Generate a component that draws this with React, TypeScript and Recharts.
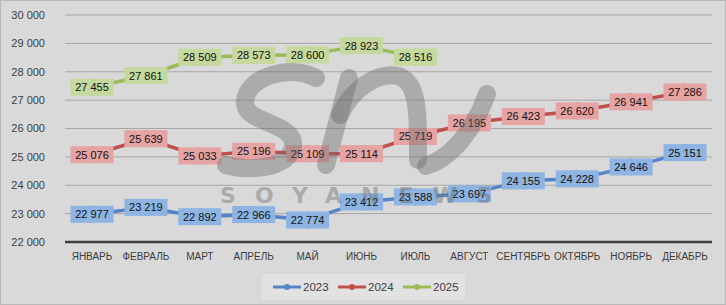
import React from 'react';
import { LineChart, Line, XAxis, YAxis, CartesianGrid, Legend } from 'recharts';

const months = ['ЯНВАРЬ', 'ФЕВРАЛЬ', 'МАРТ', 'АПРЕЛЬ', 'МАЙ', 'ИЮНЬ', 'ИЮЛЬ', 'АВГУСТ', 'СЕНТЯБРЬ', 'ОКТЯБРЬ', 'НОЯБРЬ', 'ДЕКАБРЬ'];
const values2023 = [22977, 23219, 22892, 22966, 22774, 23412, 23588, 23697, 24155, 24228, 24646, 25151];
const values2024 = [25076, 25639, 25033, 25196, 25109, 25114, 25719, 26195, 26423, 26620, 26941, 27286];
const values2025 = [27455, 27861, 28509, 28573, 28600, 28923, 28516];
const yTicks = [22000, 23000, 24000, 25000, 26000, 27000, 28000, 29000, 30000];

const data = months.map((m, i) => ({
  month: m,
  y2023: values2023[i],
  y2024: values2024[i],
  y2025: i < values2025.length ? values2025[i] : null,
}));

const styles: Record<string, { line: string; box: string; dot: string }> = {
  y2023: { line: '#5585c6', box: '#8db4e2', dot: '#86aedf' },
  y2024: { line: '#c0504d', box: '#e6a3a3', dot: '#de9191' },
  y2025: { line: '#9bbb59', box: '#c5d89d', dot: '#bcd28f' },
};

const fmt = (v: number) => {
  const th = Math.floor(v / 1000);
  const rest = String(v % 1000).padStart(3, '0');
  return `${th} ${rest}`;
};

const makeDot = (key: string) => (props: any) => {
  const { cx, cy, index, value } = props;
  if (cx == null || cy == null || value == null) return <g key={`d-${key}-${index}`} />;
  return (
    <circle key={`d-${key}-${index}`} cx={cx} cy={cy} r={8} fill={styles[key].dot} stroke={styles[key].line} strokeWidth={1} />
  );
};

const makeLabel = (key: string) => (props: any) => {
  const { x, y, value, index } = props;
  if (value == null || x == null || y == null) return <g key={`l-${key}-${index}`} />;
  const w = 43;
  const h = 17;
  return (
    <g key={`l-${key}-${index}`}>
      <rect x={x - w / 2} y={y - h / 2} width={w} height={h} fill={styles[key].box} />
      <text x={x} y={y} dy="0.36em" textAnchor="middle" fontSize={11} fill="#111">
        {fmt(value)}
      </text>
    </g>
  );
};

const renderLegend = (props: any) => {
  const payload = props.payload || [];
  const offsets = [11, 76, 141];
  return (
    <div style={{ position: 'relative', width: 712, height: 26 }}>
      <div style={{ position: 'absolute', left: 262, top: 0, width: 203, height: 26, background: '#e2e2e2' }}>
        {payload.map((p: any, i: number) => (
          <div key={p.value} style={{ position: 'absolute', left: offsets[i], top: 0, height: 26, display: 'flex', alignItems: 'center' }}>
            <svg width={28} height={10} style={{ display: 'block' }}>
              <line x1={0} y1={5} x2={28} y2={5} stroke={p.color} strokeWidth={3} />
              <circle cx={14} cy={5} r={3} fill={p.color} />
            </svg>
            <span style={{ marginLeft: 2, fontSize: 11.5, color: '#404040' }}>{p.value}</span>
          </div>
        ))}
      </div>
    </div>
  );
};

export default function App() {
  return (
    <div
      style={{
        position: 'absolute',
        left: 0,
        top: 0,
        width: 726,
        height: 305,
        background: '#d9d9d9',
        boxSizing: 'border-box',
        border: '1px solid #b8b8b8',
        fontFamily: '"Liberation Sans", Arial, sans-serif',
        overflow: 'hidden',
      }}
    >
      <div style={{ position: 'absolute', left: -1, top: -1 }}>
        <LineChart width={726} height={305} data={data} margin={{ top: 15, right: 14, bottom: 5, left: 0 }}>
          <CartesianGrid vertical={false} stroke="#a6a6a6" strokeWidth={1} />
          <XAxis
            dataKey="month"
            axisLine={{ stroke: '#404040', strokeWidth: 2.5 }}
            tickLine={false}
            tick={{ fontSize: 10, fill: '#3c3c3c' }}
            tickMargin={5}
            height={32}
            interval={0}
            padding={{ left: 27, right: 27 }}
          />
          <YAxis
            domain={[22000, 30000]}
            ticks={yTicks}
            tickFormatter={fmt}
            axisLine={false}
            tickLine={false}
            tick={{ fontSize: 11, fill: '#404040' }}
            tickMargin={14}
            width={65}
            interval={0}
          />
          <Legend verticalAlign="bottom" height={26} content={renderLegend} />
          <Line
            type="linear"
            dataKey="y2023"
            name="2023"
            stroke={styles.y2023.line}
            strokeWidth={3.5}
            dot={makeDot('y2023')}
            label={makeLabel('y2023')}
            isAnimationActive={false}
          />
          <Line
            type="linear"
            dataKey="y2024"
            name="2024"
            stroke={styles.y2024.line}
            strokeWidth={3.5}
            dot={makeDot('y2024')}
            label={makeLabel('y2024')}
            isAnimationActive={false}
          />
          <Line
            type="linear"
            dataKey="y2025"
            name="2025"
            stroke={styles.y2025.line}
            strokeWidth={3.5}
            dot={makeDot('y2025')}
            label={makeLabel('y2025')}
            isAnimationActive={false}
          />
        </LineChart>
      </div>
      <svg
        width={726}
        height={305}
        style={{ position: 'absolute', left: -1, top: -1, pointerEvents: 'none' }}
      >
        <g fill="none" stroke="#666" strokeOpacity={0.4} strokeWidth={18} strokeLinecap="round" strokeLinejoin="round" opacity={1}>
          <path d="M 316 78 C 292 64, 246 76, 245 102 C 244 124, 296 122, 293 146 C 290 168, 250 172, 226 165" />
          <path d="M 349 78 L 326 165" />
          <path d="M 340 115 C 352 88, 378 72, 398 76 C 420 82, 418 120, 418 160" />
          <path d="M 426 166 C 445 160, 470 140, 487 94" />
        </g>
        <text
          x={220}
          y={203}
          fontSize={22}
          fontWeight="bold"
          fontFamily="DejaVu Sans"
          fill="#666"
          opacity={0.4}
          textLength={272}
          lengthAdjust="spacing"
        >
          SOYANEWS
        </text>
      </svg>
    </div>
  );
}
